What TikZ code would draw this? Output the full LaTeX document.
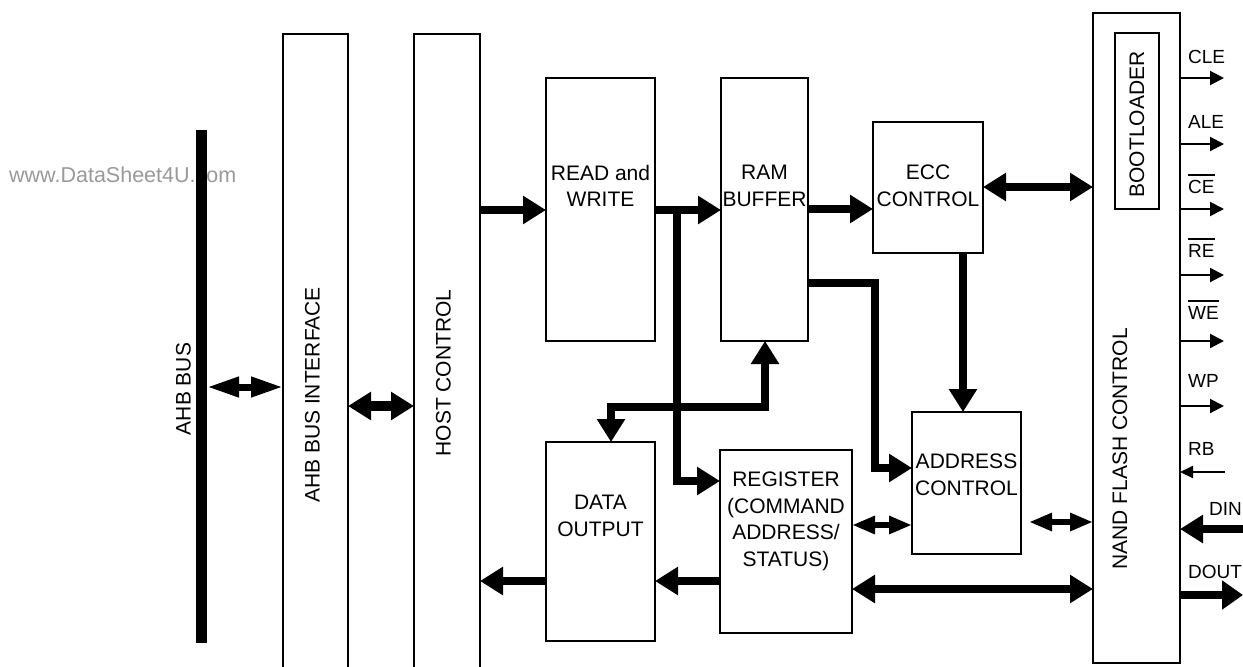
\documentclass[tikz,border=0pt]{standalone}
\usepackage{fontspec}
\setmainfont{Liberation Sans}
\usetikzlibrary{arrows.meta}
\newcommand\ovl[1]{\vbox{\hrule height 1.5pt\kern 4pt\hbox{#1}}}
\begin{document}
\begin{tikzpicture}[x=1pt,y=-1pt,line join=miter,
  box/.style={draw,line width=2pt,inner sep=0pt,outer sep=0pt,anchor=north west},
  txt/.style={font=\fontsize{21}{26.5}\selectfont,align=center,inner sep=0pt,anchor=north},
  vtxt/.style={font=\fontsize{21}{25}\selectfont,rotate=90,inner sep=0pt},
  sigtxt/.style={font=\fontsize{19}{22}\selectfont,inner sep=0pt,anchor=base west},
  bigR/.style={line width=8.5pt,-{Triangle[length=23pt,width=27pt]}},
  bigLR/.style={line width=8.5pt,{Triangle[length=23pt,width=27pt]}-{Triangle[length=23pt,width=27pt]}},
  busLR/.style={line width=7pt,{Triangle[length=32pt,width=19pt]}-{Triangle[length=32pt,width=19pt]}},
  hostLR/.style={line width=10pt,{Triangle[length=23pt,width=27pt]}-{Triangle[length=23pt,width=27pt]}},
  smallLR/.style={line width=6pt,{Triangle[length=23pt,width=17pt]}-{Triangle[length=23pt,width=17pt]}},
  sig/.style={line width=2pt,-{Triangle[length=14pt,width=14pt]}}
]
\useasboundingbox (0,0) rectangle (1243,667);
\clip (0,0) rectangle (1243,667);

% watermark
\node[font=\fontsize{21.5}{24}\selectfont,text=black!40,inner sep=0pt,anchor=base west] (wm) at (9,182) {www.DataSheet4U.com};

% AHB bus bar
\node[fill=black,inner sep=0pt,outer sep=0pt,minimum width=11pt,minimum height=513pt] (ahb) at (201.5,386.5) {};
\node[vtxt] (ahbt) at (183.5,389) {AHB BUS};

% boxes
\node[box,minimum width=65pt,minimum height=700pt] (ifc) at (283,34) {};
\node[box,minimum width=66pt,minimum height=700pt] (host) at (414,34) {};
\node[box,minimum width=109pt,minimum height=263pt] (rw) at (546,78) {};
\node[box,minimum width=87pt,minimum height=263pt] (ram) at (721,78) {};
\node[box,minimum width=110pt,minimum height=131pt] (ecc) at (873,122) {};
\node[box,minimum width=109pt,minimum height=142pt] (addr) at (912,412) {};
\node[box,minimum width=109pt,minimum height=199pt] (dout) at (546,442) {};
\node[box,minimum width=132pt,minimum height=183pt] (reg) at (720,450) {};
\node[box,minimum width=87pt,minimum height=650pt] (nand) at (1093,13) {};
\node[box,minimum width=44pt,minimum height=176pt] (boot) at (1115,33) {};

% texts
\node[vtxt] (ifct) at (312.5,395) {AHB BUS INTERFACE};
\node[vtxt] (hostt) at (443.5,373) {HOST CONTROL};
\node[vtxt] (nandt) at (1120,449) {NAND FLASH CONTROL};
\node[vtxt] (boott) at (1137,124.5) {BOOTLOADER};
\node[txt] (rwt) at (600.5,165) {READ and\\WRITE};
\node[txt] (ramt) at (764.5,165) {RAM\\BUFFER};
\node[txt] (ecct) at (928,165) {ECC\\CONTROL};
\node[txt] (addrt) at (966.5,454) {ADDRESS\\CONTROL};
\node[txt] (doutt) at (600.5,495) {DATA\\OUTPUT};
\node[txt] (regt) at (786,472) {REGISTER\\(COMMAND\\ADDRESS/\\STATUS)};

% left side connectors
\draw[busLR] (ahb.east |- 0,387) -- (ifc.west |- 0,387);
\draw[hostLR] (ifc.east |- 0,406) -- (host.west |- 0,406);

% data path
\draw[bigR] (host.east |- 0,210) -- (rw.west |- 0,210);
\draw[bigR] (rw.east |- 0,210) -- (ram.west |- 0,210);
\coordinate (br) at (677,210);
\draw[bigR] (br) |- (reg.west |- 0,481);
\draw[bigR] (ram.east |- 0,209) -- (ecc.west |- 0,209);
\draw[bigLR] (ecc.east |- 0,187) -- (nand.west |- 0,187);
\draw[bigR] (ecc.south -| 963,0) -- (addr.north -| 963,0);
\draw[bigR] (ram.east |- 0,283) -- (875,283) |- (addr.west |- 0,468);
\draw[bigLR] (ram.south -| 765,0) -- (765,407) -| (dout.north -| 611,0);
\draw[bigR] (reg.west |- 0,581) -- (dout.east |- 0,581);
\draw[bigR] (dout.west |- 0,581) -- (host.east |- 0,581);
\draw[smallLR] (reg.east |- 0,525) -- (addr.west |- 0,525);
\coordinate (an) at (1029,522);
\draw[smallLR] (an) -- (nand.west |- an);
\draw[bigLR] (reg.east |- 0,589) -- (nand.west |- 0,589);

% NAND signals
\foreach \yy/\nn in {78/cle,144/ale,209/ce,275/re,341/we,406/wp}{
  \coordinate (\nn) at (1224,\yy);
  \draw[sig] (nand.east |- \nn) -- (\nn);
}
\coordinate (rb) at (1225,472);
\draw[line width=2pt,-{Triangle[length=13pt,width=12pt]}] (rb) -- (nand.east |- rb);
\coordinate (din) at (1250,529);
\draw[bigR] (din) -- (nand.east |- din);
\coordinate (dt) at (1243,595);
\draw[line width=8pt,-{Triangle[length=21pt,width=28pt]}] (nand.east |- dt) -- (dt);

\node[sigtxt] (lcle) at (1188,63) {CLE};
\node[sigtxt] (lale) at (1188,128) {ALE};
\node[sigtxt] (lce) at (1188,193) {\ovl{CE}};
\node[sigtxt] (lre) at (1188,257) {\ovl{RE}};
\node[sigtxt] (lwe) at (1188,319) {\ovl{WE}};
\node[sigtxt] (lwp) at (1188,387) {WP};
\node[sigtxt] (lrb) at (1188,455) {RB};
\node[sigtxt] (ldin) at (1209,515) {DIN};
\node[sigtxt] (ldout) at (1188,578) {DOUT};
\end{tikzpicture}
\end{document}
